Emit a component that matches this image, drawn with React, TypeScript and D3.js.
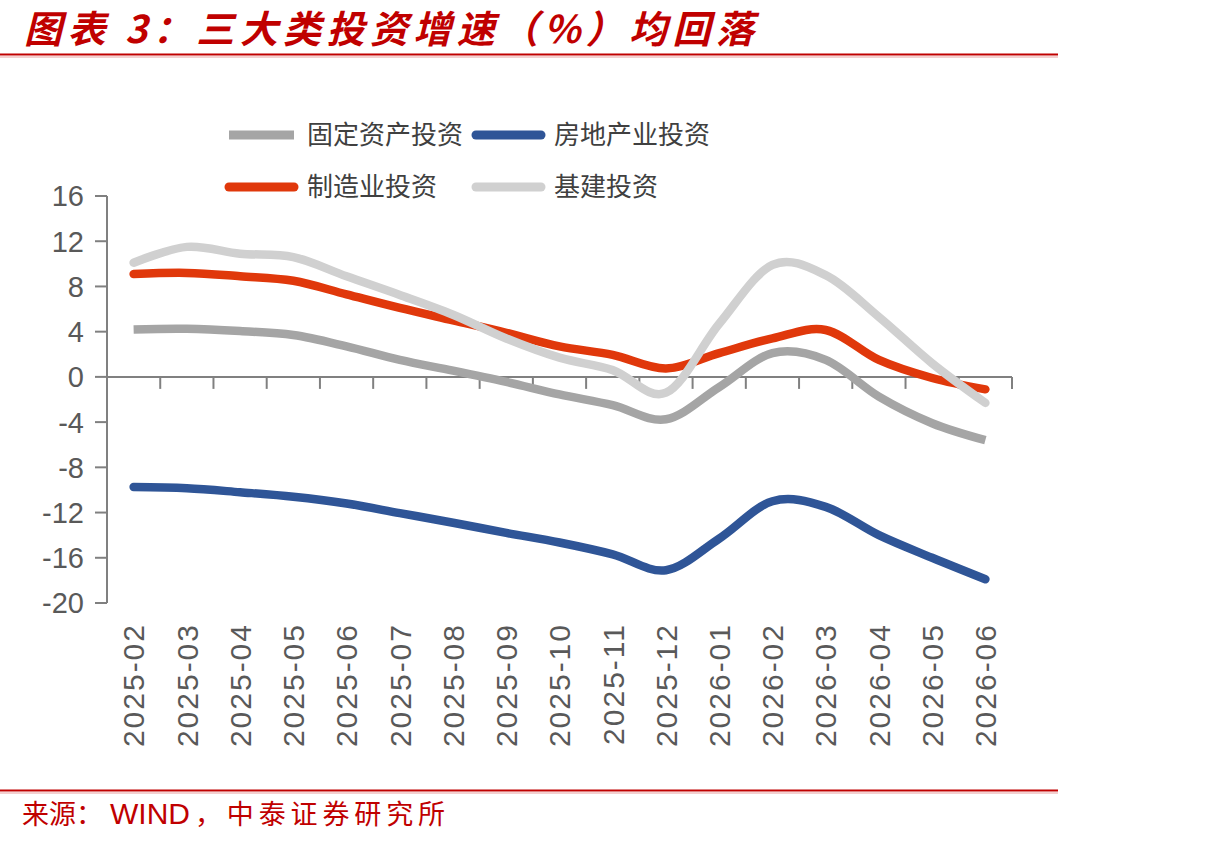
import React from "react";
import * as d3 from "d3";

const months = [
  "2025-02", "2025-03", "2025-04", "2025-05", "2025-06", "2025-07", "2025-08", "2025-09",
  "2025-10", "2025-11", "2025-12", "2026-01", "2026-02", "2026-03", "2026-04", "2026-05", "2026-06",
];
const fixedAsset = [4.2, 4.25, 4.05, 3.7, 2.7, 1.5, 0.55, -0.45, -1.55, -2.5, -3.75, -0.9, 2.1, 1.5, -1.75, -4.1, -5.6];
const realEstate = [-9.75, -9.85, -10.2, -10.6, -11.2, -12.05, -12.9, -13.8, -14.65, -15.7, -17.1, -14.3, -11.0, -11.5, -14.0, -16.0, -17.9];
const manufacturing = [9.1, 9.2, 8.9, 8.5, 7.3, 6.1, 5.0, 3.9, 2.7, 1.95, 0.75, 2.1, 3.4, 4.15, 1.5, -0.1, -1.1];
const infrastructure = [10.1, 11.5, 10.9, 10.6, 8.9, 7.25, 5.5, 3.4, 1.7, 0.6, -1.4, 4.7, 9.9, 9.0, 5.3, 1.2, -2.3];
const yTicks = [16, 12, 8, 4, 0, -4, -8, -12, -16, -20];

const series = [
  { name: "固定资产投资", values: fixedAsset, color: "#A5A5A5", cap: "butt" },
  { name: "房地产业投资", values: realEstate, color: "#2F5597", cap: "round" },
  { name: "制造业投资", values: manufacturing, color: "#E0380B", cap: "round" },
  { name: "基建投资", values: infrastructure, color: "#D0D0D0", cap: "round" },
];

const legendPos = [
  { x: 225, y: 135 },
  { x: 472, y: 135 },
  { x: 225, y: 187 },
  { x: 472, y: 187 },
];

const CJK = "'Noto Sans CJK SC', 'Noto Sans', sans-serif";
const LATIN = "'Liberation Sans', Arial, sans-serif";

export default function App() {
  const x = d3.scaleBand<string>().domain(months).range([107, 1012]).paddingInner(0).paddingOuter(0);
  const y = d3.scaleLinear().domain([-20, 16]).range([603, 196]);
  const bw = x.bandwidth();
  const cx = (m: string) => (x(m) as number) + bw / 2;
  const line = d3
    .line<number>()
    .x((_, i) => cx(months[i]))
    .y((v) => y(v))
    .curve(d3.curveCardinal.tension(0));
  const axisColor = "#808080";
  const labelColor = "#595959";

  return (
    <svg width={1214} height={844} style={{ position: "absolute", left: 0, top: 0, background: "#fff" }}>
      <rect x={0} y={0} width={1214} height={844} fill="#fff" />
      {/* Title */}
      <text
        x={24}
        y={43}
        fontFamily={CJK}
        fontSize={38}
        fontWeight={700}
        fontStyle="italic"
        fill="#C00000"
        textLength={730}
        lengthAdjust="spacing"
      >
        图表 3：三大类投资增速（%）均回落
      </text>
      <line x1={0} x2={1058} y1={54.5} y2={54.5} stroke="#C00000" strokeWidth={2} />
      <line x1={0} x2={1058} y1={57} y2={57} stroke="#E8A0A0" strokeWidth={1} />

      {/* Legend */}
      {series.map((s, i) => (
        <g key={s.name}>
          <line
            x1={legendPos[i].x + 4}
            x2={legendPos[i].x + 69}
            y1={legendPos[i].y}
            y2={legendPos[i].y}
            stroke={s.color}
            strokeWidth={9}
            strokeLinecap={s.cap as any}
          />
          <text
            x={legendPos[i].x + 82}
            y={legendPos[i].y}
            dy="0.36em"
            fontFamily={CJK}
            fontSize={26}
            fill="#404040"
          >
            {s.name}
          </text>
        </g>
      ))}

      {/* Y axis */}
      <line x1={107} x2={107} y1={y(16)} y2={y(-20)} stroke={axisColor} strokeWidth={2} />
      {yTicks.map((t) => (
        <g key={t}>
          <line x1={95} x2={107} y1={y(t)} y2={y(t)} stroke={axisColor} strokeWidth={2} />
          <text
            x={84}
            y={y(t)}
            dy="0.36em"
            textAnchor="end"
            fontFamily={LATIN}
            fontSize={29}
            fill={labelColor}
          >
            {t}
          </text>
        </g>
      ))}

      {/* X axis */}
      <line x1={106} x2={1012} y1={y(0)} y2={y(0)} stroke={axisColor} strokeWidth={2} />
      {months.map((m) => (
        <line
          key={"t" + m}
          x1={(x(m) as number) + bw}
          x2={(x(m) as number) + bw}
          y1={y(0)}
          y2={y(0) + 12}
          stroke={axisColor}
          strokeWidth={2}
        />
      ))}
      {months.map((m) => (
        <text
          key={"l" + m}
          transform={`translate(${cx(m)},623) rotate(-90)`}
          dy="0.36em"
          textAnchor="end"
          fontFamily={LATIN}
          fontSize={30}
          letterSpacing={2}
          fill={labelColor}
        >
          {m}
        </text>
      ))}

      {/* Lines */}
      {series.map((s) => (
        <path
          key={"p" + s.name}
          d={line(s.values) as string}
          fill="none"
          stroke={s.color}
          strokeWidth={8.5}
          strokeLinecap={s.cap as any}
          strokeLinejoin="round"
        />
      ))}

      {/* Source */}
      <line x1={0} x2={1058} y1={790.5} y2={790.5} stroke="#C00000" strokeWidth={2} />
      <line x1={0} x2={1058} y1={793} y2={793} stroke="#E8A0A0" strokeWidth={1} />
      <text y={824} fill="#C00000" fontSize={27}>
        <tspan x={22} fontFamily={CJK}>来源：</tspan>
        <tspan x={110} fontFamily={LATIN} fontSize={30}>WIND</tspan>
        <tspan x={195} fontFamily={CJK} textLength={250} lengthAdjust="spacing">，中泰证券研究所</tspan>
      </text>
    </svg>
  );
}
